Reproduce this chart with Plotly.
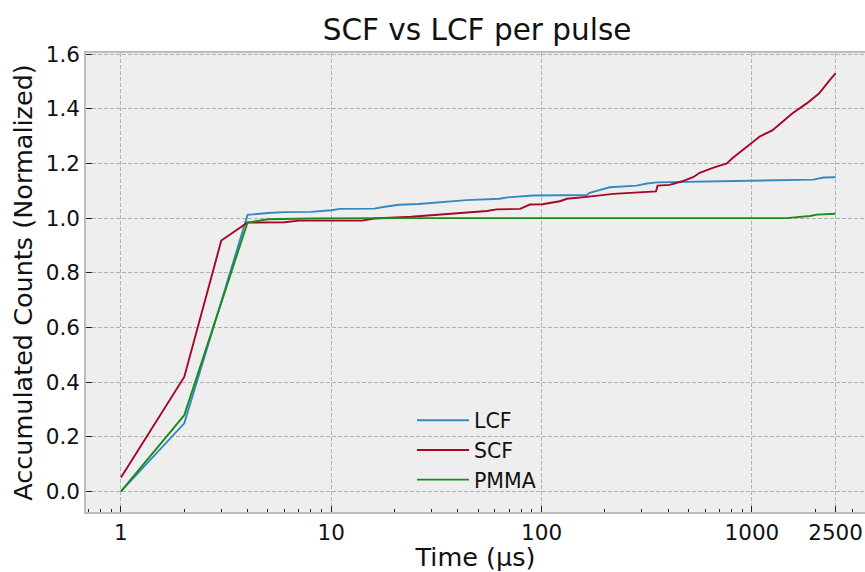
import numpy as np
import plotly.graph_objects as go

# ---- data ----
lcf_t = [1, 2, 3, 4, 5, 6, 8, 9, 10, 11, 16, 18, 21, 26, 34, 44, 63, 69, 91, 152,
         164, 169, 211, 283, 317, 354, 762, 1010, 1960, 2190, 2500]
lcf_y = [0.0, 0.249, 0.695, 1.012, 1.019, 1.022, 1.023, 1.025, 1.029, 1.034, 1.035, 1.042,
         1.049, 1.052, 1.059, 1.066, 1.071, 1.076, 1.083, 1.084, 1.085, 1.093, 1.113,
         1.119, 1.127, 1.131, 1.135, 1.137, 1.141, 1.149, 1.150]

scf_t = [1, 2, 3, 4, 6, 7, 14, 16, 24, 30, 41, 55, 61, 79, 88, 101, 122, 132, 164, 219,
         350, 356, 406, 467, 525, 565, 652, 760, 810, 913, 1010, 1090, 1250, 1400,
         1560, 1830, 2090, 2350, 2500]
scf_y = [0.051, 0.419, 0.918, 0.984, 0.985, 0.991, 0.991, 0.999, 1.005, 1.011, 1.019,
         1.026, 1.032, 1.034, 1.050, 1.051, 1.062, 1.071, 1.078, 1.089, 1.098, 1.119,
         1.122, 1.135, 1.150, 1.166, 1.184, 1.200, 1.220, 1.253, 1.281, 1.299, 1.321,
         1.354, 1.384, 1.421, 1.457, 1.506, 1.530]

pmma_t = [1, 2, 3, 4, 5, 8, 20, 100, 1000, 1460, 1890, 2040, 2500]
pmma_y = [0.0, 0.279, 0.691, 0.984, 0.996, 0.999, 1.0, 1.0, 1.0, 1.0, 1.008, 1.013, 1.016]

x_ticks = [1, 10, 100, 1000, 2500]
x_tick_text = ["1", "10", "100", "1000", "2500"]
x_minor = [0.7, 0.8, 0.9, 2, 3, 4, 5, 6, 7, 8, 9, 20, 30, 40, 50, 60, 70, 80, 90,
           200, 300, 400, 500, 600, 700, 800, 900, 2000, 3000]
y_ticks = [0.0, 0.2, 0.4, 0.6, 0.8, 1.0, 1.2, 1.4, 1.6]

series = [("LCF", lcf_t, lcf_y, "#348ABD"),
          ("SCF", scf_t, scf_y, "#A60628"),
          ("PMMA", pmma_t, pmma_y, "#1E8A1E")]

FONT = "DejaVu Sans"
TXT = "#111111"
fig = go.Figure()
for i, (name, t, y, c) in enumerate(series):
    fig.add_trace(go.Scatter(x=t, y=y, mode="lines", name=name,
                             line=dict(color=c, width=1.9), legendgroup=f"g{i}"))

W, H = 865, 572
L, R, T, B = 86, 0, 53, 58

fig.update_layout(
    width=W, height=H,
    margin=dict(l=L, r=R, t=T, b=B),
    paper_bgcolor="white",
    plot_bgcolor="#EEEEEE",
    font=dict(family=FONT, size=21, color=TXT),
    title=dict(text="SCF vs LCF per pulse", x=0.5515, xanchor="center",
               y=1 - 30 / H, yanchor="middle",
               font=dict(family=FONT, size=29.5, color=TXT)),
    legend=dict(x=0.4185, y=0.243, xanchor="left", yanchor="top",
                bgcolor="rgba(0,0,0,0)", borderwidth=0, itemwidth=52,
                font=dict(family=FONT, size=20.5, color=TXT),
                tracegroupgap=0, traceorder="grouped"),
    showlegend=True,
)
fig.update_xaxes(
    type="log",
    range=[np.log10(0.682), np.log10(3450)],
    tickmode="array", tickvals=x_ticks, ticktext=x_tick_text,
    ticks="inside", ticklen=6, tickwidth=1, tickcolor="#222222",
    showgrid=True, gridcolor="#B2B2B2", gridwidth=1, griddash="4px,2px",
    showline=True, linecolor="#BCBCBC", linewidth=1.5, mirror=True,
    zeroline=False,
    minor=dict(tickmode="array", tickvals=x_minor, ticks="inside", ticklen=3.5,
               tickwidth=1, tickcolor="#222222", showgrid=False),
    title=dict(text="Time (µs)", standoff=10, font=dict(family=FONT, size=25.5, color=TXT)),
    tickfont=dict(family=FONT, size=21.5, color=TXT),
)
fig.update_yaxes(
    range=[-0.0754, 1.6045],
    tickmode="array", tickvals=y_ticks, tickformat=".1f",
    ticks="inside", ticklen=6, tickwidth=1, tickcolor="#222222",
    showgrid=True, gridcolor="#B2B2B2", gridwidth=1, griddash="4px,2px",
    showline=True, linecolor="#BCBCBC", linewidth=1.5, mirror=False,
    zeroline=False,
    title=dict(text="Accumulated Counts (Normalized)", standoff=6,
               font=dict(family=FONT, size=25.5, color=TXT)),
    tickfont=dict(family=FONT, size=21.5, color=TXT),
)
fig.write_html("out.html")
